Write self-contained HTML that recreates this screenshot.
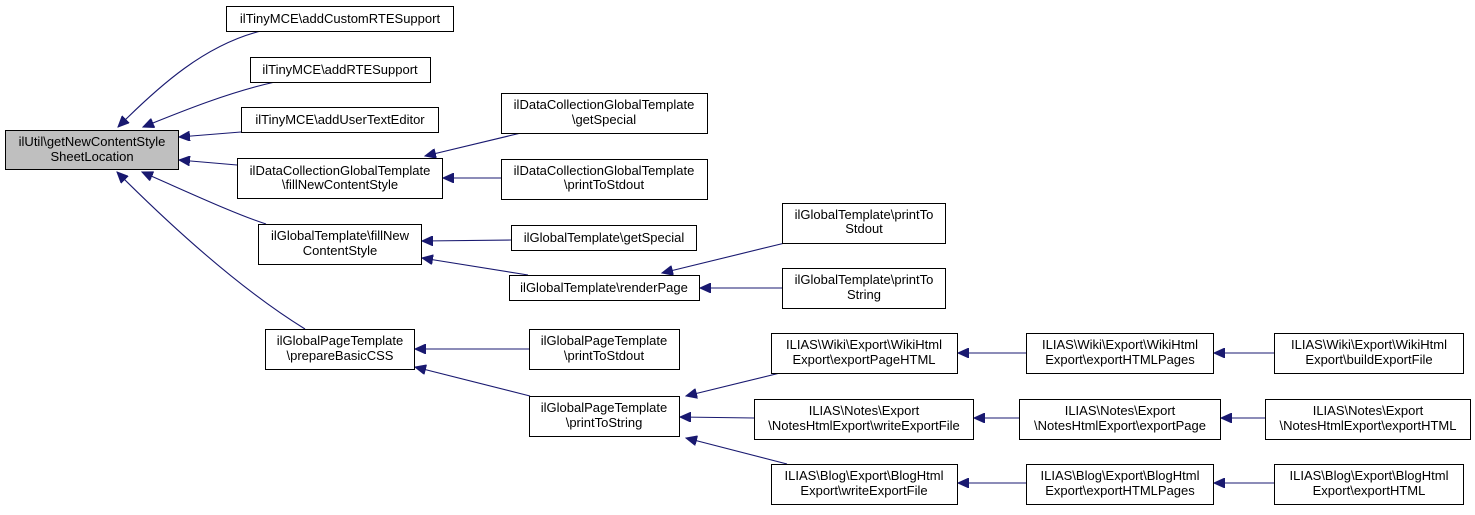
<!DOCTYPE html>
<html><head><meta charset="utf-8"><style>
html,body{margin:0;padding:0;background:#fff;}
svg text{font-family:"Liberation Sans",Helvetica,Arial,sans-serif;font-size:13px;fill:#000;}
</style></head><body>
<svg width="1475" height="510" viewBox="0 0 1475 510" xmlns="http://www.w3.org/2000/svg">
<defs>
<marker id="a" markerUnits="userSpaceOnUse" markerWidth="12" markerHeight="10" refX="11" refY="5" orient="auto">
<path d="M0,0 L11,5 L0,10 Z" fill="#191970" stroke="#191970"/>
</marker>
</defs>
<g fill="none" stroke="#191970" stroke-width="1.1" marker-end="url(#a)">
<path d="M261,31 C205,45 160,85 118,127"/>
<path d="M275,82 C230,92 185,110 143,127"/>
<path d="M241,132 L179,137"/>
<path d="M237,165 L179,160"/>
<path d="M266,224 C235,214 190,193 142,172"/>
<path d="M305,329 C245,292 180,235 117,172"/>
<path d="M521,133 L425,156"/>
<path d="M501,178 L443,178"/>
<path d="M511,240 L422,241"/>
<path d="M528,275 L422,258"/>
<path d="M785,243 L662,273"/>
<path d="M782,288 L700,288"/>
<path d="M529,349 L415,349"/>
<path d="M530,396 L415,367"/>
<path d="M780,373 L686,396"/>
<path d="M754,418 L680,417"/>
<path d="M787,464 L686,438"/>
<path d="M1026,353 L958,353"/>
<path d="M1019,418 L974,418"/>
<path d="M1026,483 L958,483"/>
<path d="M1274,353 L1214,353"/>
<path d="M1265,418 L1221,418"/>
<path d="M1274,483 L1214,483"/>
</g>
<g stroke="#000" stroke-width="1" fill="#fff">
<rect x="5.5" y="130.5" width="173" height="39" fill="#bfbfbf"/>
<rect x="226.5" y="6.5" width="227" height="25"/>
<rect x="250.5" y="57.5" width="180" height="25"/>
<rect x="241.5" y="107.5" width="197" height="25"/>
<rect x="237.5" y="158.5" width="205" height="40"/>
<rect x="258.5" y="224.5" width="163" height="40"/>
<rect x="265.5" y="329.5" width="149" height="40"/>
<rect x="501.5" y="93.5" width="206" height="40"/>
<rect x="501.5" y="159.5" width="206" height="40"/>
<rect x="511.5" y="225.5" width="185" height="25"/>
<rect x="509.5" y="275.5" width="190" height="25"/>
<rect x="782.5" y="203.5" width="163" height="40"/>
<rect x="782.5" y="268.5" width="163" height="40"/>
<rect x="529.5" y="329.5" width="150" height="40"/>
<rect x="529.5" y="396.5" width="150" height="40"/>
<rect x="771.5" y="333.5" width="186" height="40"/>
<rect x="754.5" y="399.5" width="219" height="40"/>
<rect x="771.5" y="464.5" width="186" height="40"/>
<rect x="1026.5" y="333.5" width="187" height="40"/>
<rect x="1019.5" y="399.5" width="201" height="40"/>
<rect x="1026.5" y="464.5" width="187" height="40"/>
<rect x="1274.5" y="333.5" width="189" height="40"/>
<rect x="1265.5" y="399.5" width="205" height="40"/>
<rect x="1274.5" y="464.5" width="189" height="40"/>
</g>
<g text-anchor="middle">
<text x="92" y="146">ilUtil\getNewContentStyle</text><text x="92" y="161">SheetLocation</text>
<text x="340" y="23">ilTinyMCE\addCustomRTESupport</text>
<text x="340" y="74">ilTinyMCE\addRTESupport</text>
<text x="340" y="124">ilTinyMCE\addUserTextEditor</text>
<text x="340" y="175">ilDataCollectionGlobalTemplate</text><text x="340" y="189">\fillNewContentStyle</text>
<text x="340" y="240">ilGlobalTemplate\fillNew</text><text x="340" y="255">ContentStyle</text>
<text x="340" y="345">ilGlobalPageTemplate</text><text x="340" y="360">\prepareBasicCSS</text>
<text x="604" y="109">ilDataCollectionGlobalTemplate</text><text x="604" y="124">\getSpecial</text>
<text x="604" y="175">ilDataCollectionGlobalTemplate</text><text x="604" y="189">\printToStdout</text>
<text x="604" y="242">ilGlobalTemplate\getSpecial</text>
<text x="604" y="292">ilGlobalTemplate\renderPage</text>
<text x="864" y="219">ilGlobalTemplate\printTo</text><text x="864" y="233">Stdout</text>
<text x="864" y="284">ilGlobalTemplate\printTo</text><text x="864" y="299">String</text>
<text x="604" y="345">ilGlobalPageTemplate</text><text x="604" y="360">\printToStdout</text>
<text x="604" y="412">ilGlobalPageTemplate</text><text x="604" y="427">\printToString</text>
<text x="864" y="349">ILIAS\Wiki\Export\WikiHtml</text><text x="864" y="364">Export\exportPageHTML</text>
<text x="864" y="415">ILIAS\Notes\Export</text><text x="864" y="430">\NotesHtmlExport\writeExportFile</text>
<text x="864" y="480">ILIAS\Blog\Export\BlogHtml</text><text x="864" y="495">Export\writeExportFile</text>
<text x="1120" y="349">ILIAS\Wiki\Export\WikiHtml</text><text x="1120" y="364">Export\exportHTMLPages</text>
<text x="1120" y="415">ILIAS\Notes\Export</text><text x="1120" y="430">\NotesHtmlExport\exportPage</text>
<text x="1120" y="480">ILIAS\Blog\Export\BlogHtml</text><text x="1120" y="495">Export\exportHTMLPages</text>
<text x="1369" y="349">ILIAS\Wiki\Export\WikiHtml</text><text x="1369" y="364">Export\buildExportFile</text>
<text x="1368" y="415">ILIAS\Notes\Export</text><text x="1368" y="430">\NotesHtmlExport\exportHTML</text>
<text x="1369" y="480">ILIAS\Blog\Export\BlogHtml</text><text x="1369" y="495">Export\exportHTML</text>
</g>
</svg>
</body></html>
